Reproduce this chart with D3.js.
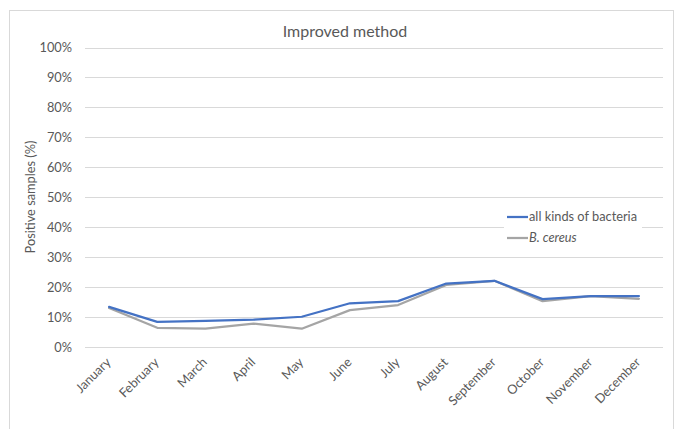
<!DOCTYPE html>
<html>
<head>
<meta charset="utf-8">
<script src="https://cdn.jsdelivr.net/npm/d3@7"></script>
<style>
  html, body { margin: 0; padding: 0; background: #fff; }
  svg { display: block; font-family: Lato, "Open Sans", sans-serif; }
</style>
</head>
<body>
<svg id="chart" width="678" height="429"></svg>
<script>
// Monthly share of positive samples, improved method
const months = ["January", "February", "March", "April", "May", "June",
                "July", "August", "September", "October", "November", "December"];
const allBacteria = [13.4, 8.4, 8.7, 9.1, 10.1, 14.6, 15.3, 21.2, 22.1, 16.0, 17.0, 17.0];
const bCereus     = [13.0, 6.4, 6.1, 7.8, 6.1, 12.3, 14.0, 20.7, 22.1, 15.3, 17.0, 16.1];
const yTicks = [0, 10, 20, 30, 40, 50, 60, 70, 80, 90, 100];
const seriesNames = ["all kinds of bacteria", "B. cereus"];
const seriesColors = ["#4472C4", "#A5A5A5"];

const svg = d3.select("#chart");
const plot = { left: 85, right: 663, top: 47.5, bottom: 347 };
const FONT = "Lato, 'Open Sans', sans-serif";
const TEXT = "#595959";

// chart frame
svg.append("rect")
  .attr("x", 9.5).attr("y", 10.5)
  .attr("width", 664).attr("height", 440)
  .attr("fill", "#fff").attr("stroke", "#D9D9D9").attr("stroke-width", 1);

const x = d3.scalePoint().domain(months).range([plot.left, plot.right]).padding(0.5);
const y = d3.scaleLinear().domain([0, 100]).range([plot.bottom, plot.top]);

// gridlines
svg.append("g")
  .selectAll("line").data(yTicks).join("line")
  .attr("x1", plot.left).attr("x2", plot.right)
  .attr("y1", d => Math.round(y(d)) + 0.5).attr("y2", d => Math.round(y(d)) + 0.5)
  .attr("stroke", "#D9D9D9").attr("stroke-width", 1);

// y axis labels
const yAxis = d3.axisLeft(y).tickValues(yTicks).tickSize(0).tickPadding(0)
  .tickFormat(d => d + "%");
const gy = svg.append("g").attr("transform", `translate(${plot.left - 13},0)`).call(yAxis);
gy.select(".domain").remove();
gy.selectAll("text").attr("fill", TEXT).attr("font-size", 12.8).attr("font-family", FONT);

// x axis labels, rotated
const xAxis = d3.axisBottom(x).tickSize(0).tickPadding(0);
const gx = svg.append("g").attr("transform", `translate(0,${plot.bottom})`).call(xAxis);
gx.select(".domain").remove();
gx.selectAll("text")
  .attr("fill", TEXT).attr("font-size", 12.8).attr("font-family", FONT)
  .attr("text-anchor", "end")
  .attr("dy", null)
  .attr("y", 0)
  .attr("transform", "translate(2,16) rotate(-45)");

// lines (gray drawn first so blue sits on top)
const line = d3.line().x((d, i) => x(months[i])).y(d => y(d));
svg.append("path").datum(bCereus)
  .attr("d", line).attr("fill", "none")
  .attr("stroke", seriesColors[1]).attr("stroke-width", 2.25)
  .attr("stroke-linejoin", "round").attr("stroke-linecap", "round");
svg.append("path").datum(allBacteria)
  .attr("d", line).attr("fill", "none")
  .attr("stroke", seriesColors[0]).attr("stroke-width", 2.25)
  .attr("stroke-linejoin", "round").attr("stroke-linecap", "round");

// legend
const legend = svg.append("g");
legend.append("rect").attr("x", 504).attr("y", 206).attr("width", 138).attr("height", 42).attr("fill", "#fff");
const legendRows = [
  { name: seriesNames[0], color: seriesColors[0], italic: false, y: 217 },
  { name: seriesNames[1], color: seriesColors[1], italic: true, y: 238 }
];
legendRows.forEach(r => {
  legend.append("line").attr("x1", 507).attr("x2", 528).attr("y1", r.y).attr("y2", r.y)
    .attr("stroke", r.color).attr("stroke-width", 2.25);
  legend.append("text").attr("x", 529).attr("y", r.y).attr("dy", "0.35em")
    .attr("font-size", 12.8).attr("fill", TEXT)
    .attr("font-style", r.italic ? "italic" : "normal")
    .text(r.name);
});

// title
svg.append("text").attr("x", 345).attr("y", 31).attr("dy", "0.35em")
  .attr("text-anchor", "middle").attr("font-size", 16).attr("fill", TEXT)
  .text("Improved method");

// y axis title
svg.append("text")
  .attr("transform", `translate(31,197) rotate(-90)`)
  .attr("text-anchor", "middle").attr("dy", "0.35em")
  .attr("font-size", 12.8).attr("fill", TEXT)
  .text("Positive samples (%)");
</script>
</body>
</html>
